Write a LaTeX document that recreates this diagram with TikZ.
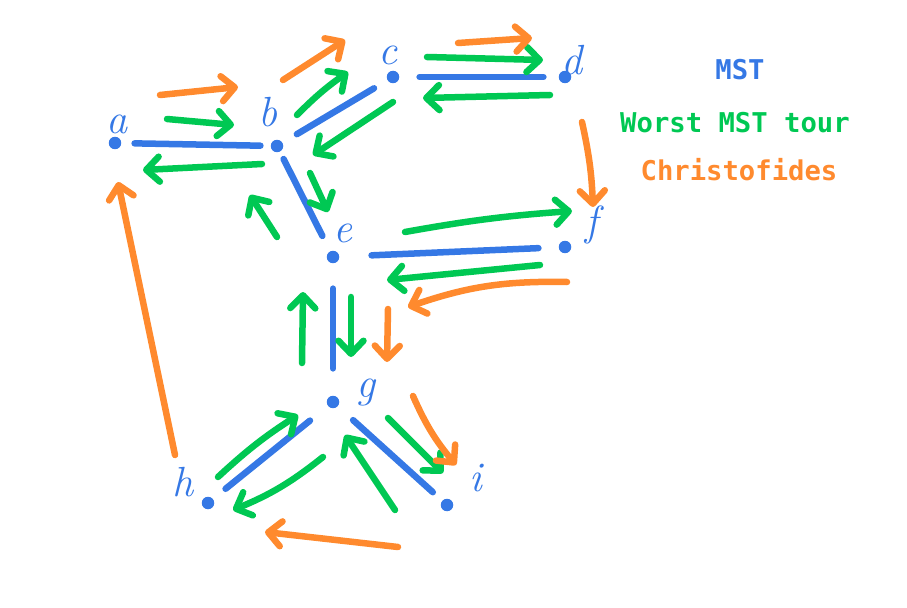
\documentclass[tikz,border=0pt]{standalone}
\usepackage{fontspec}
\setmonofont{DejaVu Sans Mono}
\usetikzlibrary{arrows.meta}
\definecolor{mstblue}{RGB}{53,120,229}
\definecolor{tourgreen}{RGB}{0,200,83}
\definecolor{christorange}{RGB}{255,138,46}
\begin{document}
\begin{tikzpicture}
    [ x=0.02cm, y=-0.02cm
    , vertex/.style={circle,fill=mstblue,inner sep=0pt,minimum size=0.25cm}
    , lbl/.style={text=mstblue,font=\fontsize{24}{26}\selectfont\itshape}
    , mst/.style 2 args={draw=mstblue,line width=3.7pt,line cap=round,shorten <=#1,shorten >=#2}
    , tour/.style={draw=tourgreen,line width=3.7pt,line cap=round,-{Straight Barb[round,length=2.6mm,width=5mm]}}
    , christo/.style={tour,draw=christorange}
    , legend/.style={font=\fontsize{15.5}{18}\selectfont\ttfamily\bfseries}
    ]

    \useasboundingbox (0,0) rectangle (907,608);

    \node [vertex] (a) at (115,143) {};
    \node [vertex] (b) at (277,146) {};
    \node [vertex] (c) at (393,77)  {};
    \node [vertex] (d) at (565,77)  {};
    \node [vertex] (e) at (333,257) {};
    \node [vertex] (f) at (565,247) {};
    \node [vertex] (g) at (333,402) {};
    \node [vertex] (h) at (208,503) {};
    \node [vertex] (i) at (447,505) {};

    \node [lbl] (la) at ([shift={(2,-19)}]a.center)   {a};
    \node [lbl] (lb) at ([shift={(-9,-34)}]b.center)  {b};
    \node [lbl] (lc) at ([shift={(-5,-22)}]c.center)  {c};
    \node [lbl] (ld) at ([shift={(7,-17)}]d.center)   {d};
    \node [lbl] (le) at ([shift={(10,-24)}]e.center)  {e};
    \node [lbl] (lf) at ([shift={(27,-22)}]f.center)  {f};
    \node [lbl] (lg) at ([shift={(33,-9)}]g.center)   {g};
    \node [lbl] (lh) at ([shift={(-25,-21)}]h.center) {h};
    \node [lbl] (li) at ([shift={(29,-27)}]i.center)  {i};

    \draw [mst={2.6mm}{2mm}]   (a) -- (b);
    \draw [mst={3.3mm}{3.1mm}] (b) -- (c);
    \draw [mst={4mm}{3mm}]     (c) -- (d);
    \draw [mst={1.6mm}{3.4mm}] (b) -- (e);
    \draw [mst={6.4mm}{4mm}]   (e) -- (f);
    \draw [mst={5mm}{5.4mm}]   (e) -- (g);
    \draw [mst={4.6mm}{3.2mm}] (g) -- (h);
    \draw [mst={4.1mm}{2.5mm}] (g) -- (i);

    \draw [tour] ([shift={(52,-24)}]a.center) -- ([shift={(-43,-21)}]b.center);
    \draw [tour] ([shift={(20,-31)}]b.center) to[bend left=5] ([shift={(-45,-5)}]c.center);
    \draw [tour] ([shift={(34,-20)}]c.center) -- ([shift={(-22,-17)}]d.center);
    \draw [tour] ([shift={(-15,18)}]d.center) -- ([shift={(30,21)}]c.center);
    \draw [tour] ([shift={(0,25)}]c.center)   -- ([shift={(36,9)}]b.center);
    \draw [tour] ([shift={(33,27)}]b.center)  -- ([shift={(-5,-45)}]e.center);
    \draw [tour] ([shift={(72,-25)}]e.center) to[bend left=3] ([shift={(7,-36)}]f.center);
    \draw [tour] ([shift={(-25,18)}]f.center) -- ([shift={(54,23)}]e.center);
    \draw [tour] ([shift={(18,40)}]e.center)  -- ([shift={(18,-45)}]g.center);
    \draw [tour] ([shift={(-10,55)}]g.center) to[bend left=8] ([shift={(25,7)}]h.center);
    \draw [tour] ([shift={(10,-26)}]h.center) to[bend left=5] ([shift={(-35,13)}]g.center);
    \draw [tour] ([shift={(55,16)}]g.center)  -- ([shift={(-4,-32)}]i.center);
    \draw [tour] ([shift={(-52,5)}]i.center)  -- ([shift={(12,33)}]g.center);
    \draw [tour] ([shift={(-31,-39)}]g.center) -- ([shift={(-30,35)}]e.center);
    \draw [tour] ([shift={(-56,-20)}]e.center) -- ([shift={(-27,49)}]b.center);
    \draw [tour] ([shift={(-15,18)}]b.center) -- ([shift={(28,27)}]a.center);

    \coordinate (turn) at (408,307);
    \draw [christo] ([shift={(45,-48)}]a.center) -- ([shift={(-39,-59)}]b.center);
    \draw [christo] ([shift={(6,-66)}]b.center)  -- ([shift={(-48,-37)}]c.center);
    \draw [christo] ([shift={(65,-34)}]c.center) -- ([shift={(-33,-39)}]d.center);
    \draw [christo] ([shift={(17,45)}]d.center) to[bend left=5] ([shift={(28,-40)}]f.center);
    \draw [christo] ([shift={(2,35)}]f.center) to[bend right=10] (turn);
    \draw [christo] ([shift={(-20,2)}]turn) -- ([shift={(54,-40)}]g.center);
    \draw [christo] ([shift={(80,-6)}]g.center) to[bend right=8] ([shift={(9,-40)}]i.center);
    \draw [christo] ([shift={(-49,42)}]i.center) -- ([shift={(57,29)}]h.center);
    \draw [christo] ([shift={(-33,-48)}]h.center) -- ([shift={(3,39)}]a.center);

    \node [legend, text=mstblue]      (kmst)   at (740,70)  {MST};
    \node [legend, text=tourgreen]    (ktour)  at (735,123) {Worst MST tour};
    \node [legend, text=christorange] (kchris) at (739,170) {Christofides};
  \end{tikzpicture}
\end{document}
